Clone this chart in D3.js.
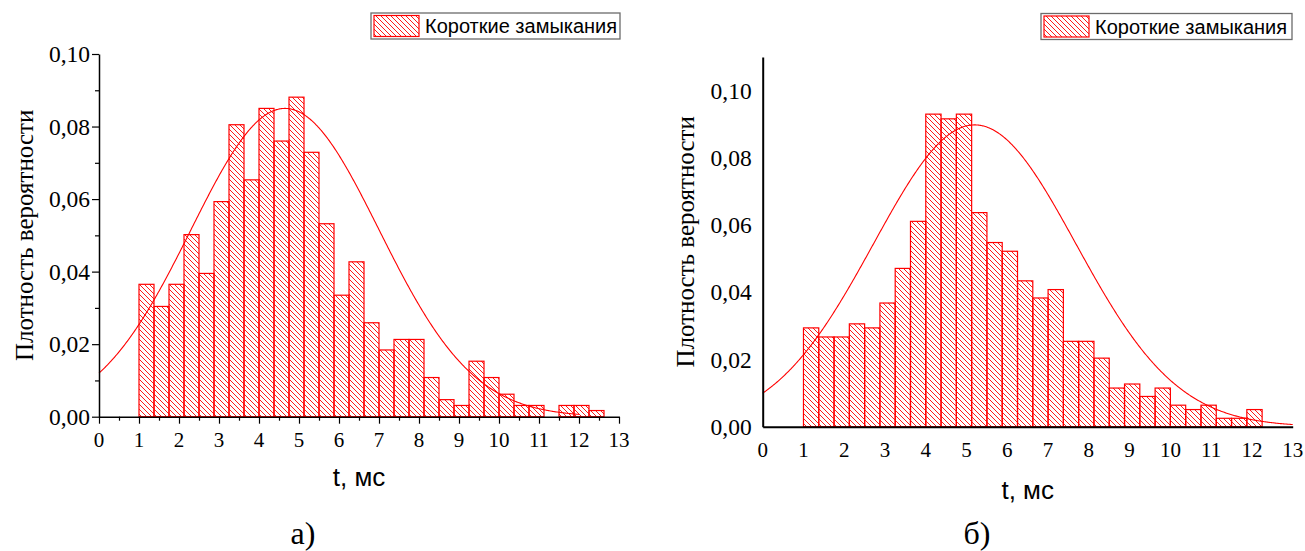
<!DOCTYPE html>
<html><head><meta charset="utf-8">
<script src="https://cdn.jsdelivr.net/npm/d3@7"></script>
<style>body{margin:0;background:#fff}svg{display:block}</style>
</head><body>
<svg id="c" width="1305" height="551"></svg>
<script>
// ---- data ----
const binStart = 1.0;
const binWidth = 0.375;
const densityA = [0.0365,0.0304,0.0365,0.0502,0.0395,0.0593,0.0805,0.0653,0.0850,0.0760,
  0.0881,0.0729,0.0532,0.0335,0.0427,0.0259,0.0184,0.0213,0.0213,0.0108,
  0.0047,0.0031,0.0153,0.0108,0.0062,0.0031,0.0031,0.0,0.0031,0.0031,0.0017];
const densityB = [0.0294,0.0267,0.0267,0.0306,0.0294,0.0368,0.0471,0.0611,0.0930,0.0916,
  0.0930,0.0637,0.0548,0.0522,0.0434,0.0383,0.0408,0.0254,0.0254,0.0204,
  0.0115,0.0127,0.0090,0.0115,0.0064,0.0051,0.0064,0.0025,0.0025,0.0051];
const fitA = {mu: 4.65, sigma: 2.35, peak: 0.085, from: 0, to: 12};
const fitB = {mu: 5.2, sigma: 2.48, peak: 0.0898, from: 0, to: 13};
const xTicks = [0,1,2,3,4,5,6,7,8,9,10,11,12,13];
const yTicks = [0,0.02,0.04,0.06,0.08,0.10];
const legendLabel = "Короткие замыкания";
const xTitle = "t, мс";
const yTitle = "Плотность вероятности";
const panelLabels = ["а)", "б)"];

const svg = d3.select("#c");
const defs = svg.append("defs");
const pat = defs.append("pattern").attr("id","hatch").attr("patternUnits","userSpaceOnUse")
  .attr("width",5).attr("height",5);
pat.append("path").attr("d","M0,0L5,5M-1,4L1,6M4,-1L6,1")
  .attr("stroke","#ff0000").attr("stroke-width",0.9).attr("fill","none");

const fmt = d => d3.format(".2f")(d).replace(".", ",");

function panel(cfg){
  const g = svg.append("g");
  const x = d3.scaleLinear().domain([0,13]).range([cfg.x0, cfg.x1]);
  const y = d3.scaleLinear().domain([0, cfg.yMax]).range([cfg.y0, cfg.yTop]);
  const bins = cfg.data.map((v,i)=>({a: binStart + i*binWidth, b: binStart + (i+1)*binWidth, v}));
  g.selectAll("rect.bar").data(bins.filter(d=>d.v>0)).join("rect").attr("class","bar")
    .attr("x", d=>x(d.a)).attr("width", d=>x(d.b)-x(d.a))
    .attr("y", d=>y(d.v)).attr("height", d=>y(0)-y(d.v))
    .attr("fill","url(#hatch)").attr("stroke","#ff0000").attr("stroke-width",1.2);
  // fitted normal curve
  const f = cfg.fit;
  const pts = d3.range(f.from, f.to + 1e-9, 0.02).map(t => [t, f.peak*Math.exp(-((t-f.mu)**2)/(2*f.sigma**2))]);
  g.append("path").datum(pts).attr("fill","none").attr("stroke","#ff0000").attr("stroke-width",1.1)
    .attr("d", d3.line().x(d=>x(d[0])).y(d=>y(d[1])));
  // axes
  const xa = g.append("g").attr("transform",`translate(0,${cfg.y0})`)
    .call(d3.axisBottom(x).tickValues(cfg.ticks ? d3.range(0,13.01,0.5) : xTicks)
      .tickSize(0).tickFormat(""));
  xa.select(".domain").attr("stroke","#000").attr("stroke-width",cfg.axisW);
  if (cfg.ticks){
    xa.selectAll(".tick line").attr("y2", d => Number.isInteger(d) ? 7 : 4).attr("stroke-width",1.2);
  }
  g.selectAll("text.xt").data(xTicks).join("text").attr("class","xt")
    .attr("x", d=>x(d)).attr("y", cfg.y0 + 30).attr("text-anchor","middle")
    .attr("font-family","Liberation Serif").attr("font-size",21).text(d=>d);
  const ya = g.append("g").attr("transform",`translate(${cfg.x0},0)`)
    .call(d3.axisLeft(y).tickValues(cfg.ticks ? d3.range(0,0.1001,0.01) : yTicks).tickSize(0).tickFormat(""));
  ya.select(".domain").attr("stroke","#000").attr("stroke-width",cfg.axisW);
  if (cfg.ticks){
    ya.selectAll(".tick line").attr("x2", (d,i) => i%2===0 ? -7 : -4).attr("stroke-width",1.2);
  }
  g.selectAll("text.yt").data(yTicks).join("text").attr("class","yt")
    .attr("x", cfg.x0 - cfg.ylabGap).attr("y", d=>y(d)).attr("dy","0.35em").attr("text-anchor","end")
    .attr("font-family","Liberation Serif").attr("font-size",23.5).text(fmt);
  // titles
  g.append("text").attr("transform",`translate(${cfg.ytX},${(cfg.y0+cfg.yTop)/2}) rotate(-90)`)
    .attr("text-anchor","middle").attr("font-family","Liberation Serif").attr("font-size",25).text(yTitle);
  g.append("text").attr("x",(cfg.x0+cfg.x1)/2).attr("y",cfg.xtY).attr("text-anchor","middle")
    .attr("font-family","Liberation Sans").attr("font-size",26).text(xTitle);
  g.append("text").attr("x",cfg.plX).attr("y",544).attr("text-anchor","middle")
    .attr("font-family","Liberation Serif").attr("font-size",32).text(cfg.panelLabel);
  // legend
  const L = cfg.legend;
  g.append("rect").attr("x",L.x).attr("y",L.y).attr("width",L.w).attr("height",L.h)
    .attr("fill","#fff").attr("stroke","#6b6b6b").attr("stroke-width",1.3);
  g.append("rect").attr("x",L.x+3).attr("y",L.y+2.5).attr("width",45).attr("height",L.h-5)
    .attr("fill","url(#hatch)").attr("stroke","#ff0000").attr("stroke-width",1.2);
  g.append("text").attr("x",L.x+54).attr("y",L.y+L.h-6).attr("font-family","Liberation Sans")
    .attr("font-size",20).text(legendLabel);
}

panel({data: densityA, fit: fitA, x0: 99, x1: 619, y0: 416.7, yTop: 54, yMax: 0.10, ticks: true,
  axisW: 1.5, ylabGap: 9, ytX: 33, xtY: 486, plX: 303, panelLabel: panelLabels[0],
  legend: {x: 371, y: 13, w: 249, h: 26}});
panel({data: densityB, fit: fitB, x0: 762.7, x1: 1292.7, y0: 426.7, yTop: 57, yMax: 0.11, ticks: false,
  axisW: 2, ylabGap: 11, ytX: 694, xtY: 499, plX: 977, panelLabel: panelLabels[1],
  legend: {x: 1041, y: 13.5, w: 251, h: 26}});
</script>
</body></html>
